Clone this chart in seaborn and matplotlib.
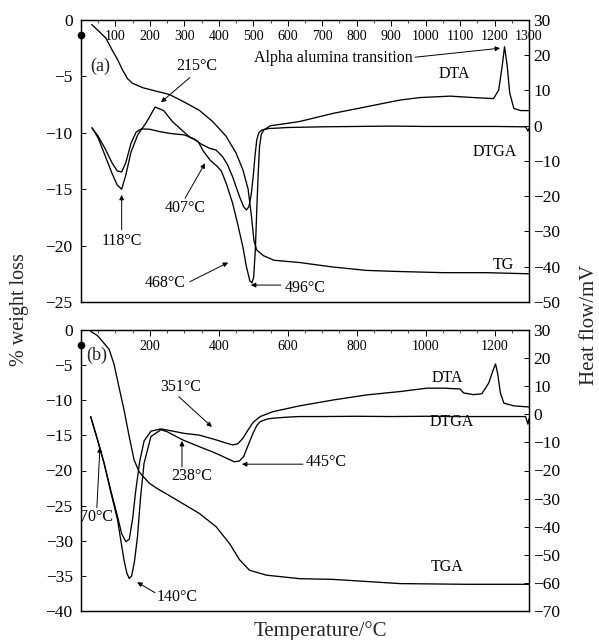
import matplotlib
matplotlib.use("Agg")
import matplotlib.pyplot as plt
import pandas as pd
import seaborn as sns

# ---------------- panel (a) ----------------
tg_a_temp = [31, 52, 72, 91, 106, 120, 135, 149, 179, 217, 256, 295, 343, 382, 421, 450, 470,
             485, 495, 502, 510, 530, 560, 634, 731, 829, 926, 1052, 1178, 1300]
tg_a_loss = [-0.4, -1.0, -1.6, -2.7, -3.5, -4.4, -5.2, -5.6, -6.0, -6.3, -6.6, -7.2, -8.0, -9.0,
             -10.3, -11.8, -13.3, -15.0, -17.5, -19.6, -20.4, -20.9, -21.3, -21.5, -21.9, -22.2,
             -22.3, -22.4, -22.4, -22.5]

dta_a_temp = [32, 50, 70, 90, 105, 118, 130, 145, 165, 190, 215, 240, 265, 290, 315, 340, 355,
              375, 395, 407, 422, 440, 455, 470, 480, 490, 496, 501, 506, 510, 514, 518, 523, 530,
              550, 600, 634, 731, 829, 926, 984, 1071, 1138, 1197, 1212, 1222, 1229, 1237, 1244,
              1256, 1276, 1300]
dta_a_mv = [-0.6, -3.5, -8.5, -13.5, -16.8, -18.0, -14.0, -7.5, -2.5, 1.0, 5.3, 4.3, 1.2, -1.0,
            -3.2, -4.5, -7.2, -9.8, -11.5, -12.8, -16.5, -22.0, -28.0, -34.5, -40.0, -44.0, -44.6,
            -43.0, -35.0, -24.0, -14.0, -6.0, -2.5, -1.2, 0.0, 0.7, 1.2, 3.5, 5.4, 7.3, 8.0, 8.4,
            8.0, 7.7, 10.1, 16.8, 22.4, 16.8, 9.3, 4.9, 4.3, 4.3]

dtga_a_temp = [32, 50, 70, 90, 105, 118, 130, 145, 160, 175, 200, 230, 260, 300, 330, 345, 373,
               392, 411, 425, 440, 460, 472, 480, 487, 494, 500, 505, 510, 516, 525, 545, 600,
               700, 800, 900, 1000, 1100, 1200, 1290, 1297, 1300]
dtga_a_mv = [-0.6, -3.0, -6.5, -10.5, -12.8, -13.1, -10.5, -5.0, -1.8, -0.9, -1.0, -1.7, -2.2,
             -2.6, -3.8, -5.0, -6.4, -6.9, -8.8, -11.0, -14.5, -20.1, -23.0, -23.9, -23.0, -19.5,
             -14.0, -8.5, -4.0, -2.0, -1.2, -0.8, -0.5, -0.3, -0.2, -0.1, -0.2, -0.2, -0.2, -0.3,
             -1.5, -0.8]

# ---------------- panel (b) ----------------
tga_b_temp = [28, 48, 67, 82, 96, 111, 125, 140, 154, 169, 183, 198, 222, 247, 295, 343, 392,
              431, 460, 489, 538, 635, 731, 829, 926, 1120, 1300]
tga_b_loss = [-0.2, -0.8, -1.9, -2.8, -4.9, -8.3, -11.4, -15.2, -18.5, -20.2, -21.0, -21.8,
              -22.6, -23.3, -24.7, -26.1, -28.0, -30.4, -32.7, -34.2, -34.9, -35.4, -35.5, -35.8,
              -36.1, -36.2, -36.2]

dta_b_temp = [28, 48, 67, 86, 106, 118, 130, 140, 150, 158, 170, 183, 203, 232, 250, 300, 343,
              392, 420, 440, 455, 470, 485, 500, 520, 556, 634, 732, 829, 926, 1004, 1052, 1100,
              1110, 1139, 1163, 1183, 1196, 1203, 1209, 1217, 1227, 1256, 1300]
dta_b_mv = [-0.8, -9.1, -17.4, -26.9, -36.4, -42.5, -45.3, -44.5, -37.0, -28.0, -17.0, -9.5,
            -6.0, -5.2, -5.6, -6.8, -7.4, -9.1, -10.2, -10.9, -10.5, -8.5, -5.5, -2.8, -0.8, 0.9,
            3.0, 5.1, 6.9, 8.1, 9.3, 9.3, 9.0, 7.6, 7.0, 7.3, 11.1, 15.8, 17.9, 14.6, 7.6, 4.0,
            3.0, 2.6]

dtga_b_temp = [28, 48, 67, 86, 106, 115, 125, 133, 140, 147, 155, 164, 173, 183, 203, 232, 250,
               295, 343, 392, 420, 445, 460, 472, 485, 499, 510, 520, 540, 556, 600, 634, 700,
               800, 900, 1000, 1100, 1200, 1290, 1297, 1300]
dtga_b_mv = [-0.8, -9.1, -17.4, -27.5, -37.5, -44.5, -52.0, -56.5, -58.4, -57.5, -52.5, -43.5,
             -29.3, -17.4, -7.9, -5.5, -6.2, -9.1, -11.5, -13.9, -15.5, -16.9, -16.6, -15.0,
             -11.0, -6.8, -4.0, -2.6, -1.7, -1.4, -1.0, -0.8, -0.8, -0.7, -0.8, -0.7, -0.8, -0.8,
             -0.8, -3.5, -1.5]

# ---------------- ticks ----------------
xticks_a = [100, 200, 300, 400, 500, 600, 700, 800, 900, 1000, 1100, 1200, 1300]
xticks_b = [200, 400, 600, 800, 1000, 1200]
yticks_left_a = [0, -5, -10, -15, -20, -25]
yticks_right_a = [30, 20, 10, 0, -10, -20, -30, -40, -50]
yticks_left_b = [0, -5, -10, -15, -20, -25, -30, -35, -40]
yticks_right_b = [30, 20, 10, 0, -10, -20, -30, -40, -50, -60, -70]

sns.set_theme(style="white")
plt.rcParams["font.family"] = ["Liberation Serif", "DejaVu Serif"]
plt.rcParams["axes.unicode_minus"] = True

W, H = 599, 640
fig = plt.figure(figsize=(W / 100, H / 100), dpi=100)
fig.patch.set_facecolor("white")


def box(x0, y0, x1, y1):
    return [x0 / W, 1 - y1 / H, (x1 - x0) / W, (y1 - y0) / H]


ax_a = fig.add_axes(box(81, 20, 529, 302))
ax_b = fig.add_axes(box(81, 330, 529, 611))
axr_a = ax_a.twinx()
axr_b = ax_b.twinx()

LW = 0.95
line_kw = dict(color="black", linewidth=LW, estimator=None, sort=False, legend=False)

sns.lineplot(data=pd.DataFrame({"T": tg_a_temp, "v": tg_a_loss}), x="T", y="v", ax=ax_a, **line_kw)
sns.lineplot(data=pd.DataFrame({"T": dta_a_temp, "v": dta_a_mv}), x="T", y="v", ax=axr_a, **line_kw)
sns.lineplot(data=pd.DataFrame({"T": dtga_a_temp, "v": dtga_a_mv}), x="T", y="v", ax=axr_a, **line_kw)

sns.lineplot(data=pd.DataFrame({"T": tga_b_temp, "v": tga_b_loss}), x="T", y="v", ax=ax_b, **line_kw)
sns.lineplot(data=pd.DataFrame({"T": dta_b_temp, "v": dta_b_mv}), x="T", y="v", ax=axr_b, **line_kw)
sns.lineplot(data=pd.DataFrame({"T": dtga_b_temp, "v": dtga_b_mv}), x="T", y="v", ax=axr_b, **line_kw)


def style(ax, axr, xt, yl, yr):
    ax.set_xlim(0, 1300)
    ax.set_ylim(min(yl), max(yl))
    axr.set_ylim(min(yr), max(yr))
    ax.set_xlabel("")
    ax.set_ylabel("")
    axr.set_ylabel("")
    ax.xaxis.tick_top()
    ax.set_xticks(xt)
    ax.set_xticks(range(50, 1300, 50), minor=True)
    ax.set_yticks(yl)
    axr.set_yticks(yr)
    ax.tick_params(axis="x", which="major", direction="in", top=True, bottom=False,
                   length=4, width=0.7, pad=-16.5, labelsize=10, colors="black")
    ax.tick_params(axis="x", which="minor", direction="in", top=True, bottom=False,
                   length=2.5, width=0.6)
    ax.tick_params(axis="y", which="major", direction="in", left=True, length=3.5,
                   width=0.7, pad=6, labelsize=12.5, colors="black")
    axr.tick_params(axis="y", which="major", direction="in", right=True, length=3.5,
                    width=0.7, pad=3, labelsize=12.5, colors="black")
    for a in (ax, axr):
        for s in a.spines.values():
            s.set_color("black")
            s.set_linewidth(0.9)


style(ax_a, axr_a, xticks_a, yticks_left_a, yticks_right_a)
style(ax_b, axr_b, xticks_b, yticks_left_b, yticks_right_b)

# small reference marker sitting on the left spine
ax_a.plot([0], [-1.3], marker="o", markersize=4.5, color="black", clip_on=False)
ax_b.plot([0], [-2.1], marker="o", markersize=4.5, color="black", clip_on=False)

FS = 11.5
arrow_kw = dict(arrowstyle="-|>", color="black", lw=0.7, mutation_scale=7, shrinkA=0, shrinkB=0)


def note(ax, text, xy_text, tail, head, ha="center"):
    ax.text(xy_text[0], xy_text[1], text, fontsize=FS, ha=ha, va="center", color="black")
    if tail is not None:
        ax.annotate("", xy=head, xytext=tail, arrowprops=arrow_kw)


# panel (a) annotations (left-axis data units)
ax_a.text(55, -4.1, "(a)", fontsize=13, ha="center", va="center")
note(ax_a, "215°C", (337, -4.1), (316, -5.1), (232, -7.3))
note(ax_a, "407°C", (302, -16.7), (302, -15.8), (360, -12.7))
note(ax_a, "118°C", (118, -19.6), (118, -18.6), (118, -15.5))
note(ax_a, "468°C", (244, -23.3), (316, -23.2), (427, -21.5))
note(ax_a, "496°C", (590, -23.8), (580, -23.5), (493, -23.5), ha="left")
note(ax_a, "DTA", (1082, -4.8), None, None)
note(ax_a, "DTGA", (1201, -11.7), None, None)
note(ax_a, "TG", (1225, -21.7), None, None)
note(ax_a, "Alpha alumina transition", (731, -3.4), (969, -3.3), (1216, -2.5))

# panel (b) annotations
ax_b.text(46, -3.6, "(b)", fontsize=13, ha="center", va="center")
note(ax_b, "70°C", (46, -26.6), (46, -25.3), (55, -16.7))
note(ax_b, "140°C", (279, -38.0), (215, -37.4), (163, -35.9))
note(ax_b, "351°C", (290, -8.1), (284, -9.5), (380, -13.8))
note(ax_b, "238°C", (322, -20.8), (293, -19.5), (293, -15.8))
note(ax_b, "445°C", (652, -18.8), (644, -19.1), (467, -19.1), ha="left")
note(ax_b, "DTA", (1062, -6.8), None, None)
note(ax_b, "DTGA", (1077, -13.1), None, None)
note(ax_b, "TGA", (1062, -33.7), None, None)

fig.text(20 / W, 1 - 310 / H, "% weight loss", rotation=90, ha="center", va="center", fontsize=14.5)
fig.text(589 / W, 1 - 325 / H, "Heat flow/mV", rotation=90, ha="center", va="center", fontsize=15)
fig.text(320 / W, 1 - 631 / H, "Temperature/°C", ha="center", va="center", fontsize=15)

fig.savefig("out.png", dpi=100)
